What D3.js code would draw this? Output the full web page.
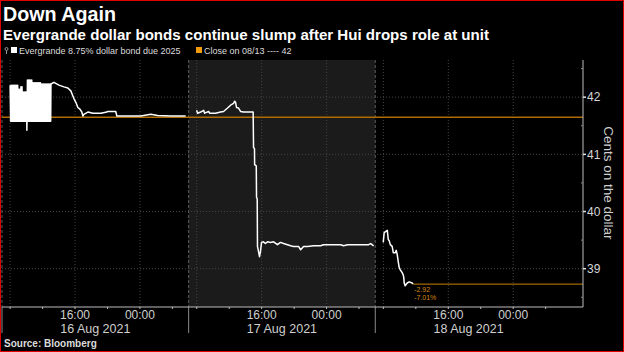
<!DOCTYPE html>
<html>
<head>
<meta charset="utf-8">
<script src="https://cdnjs.cloudflare.com/ajax/libs/d3/7.8.5/d3.min.js"></script>
<style>
body { margin: 0; background: #000; }
svg { display: block; }
</style>
</head>
<body>
<div id="chart"></div>
<script>
// Evergrande 8.75% 2025 dollar bond, intraday prices (cents on the dollar)
const aug16Prices = [
  ["08-16 08:00",42.21],["08-16 08:04",41.58],["08-16 08:08",42.21],["08-16 08:12",41.58],
  ["08-16 08:16",42.21],["08-16 08:20",41.58],["08-16 08:24",42.21],["08-16 08:28",41.58],
  ["08-16 08:32",42.21],["08-16 08:36",41.58],["08-16 08:40",42.21],["08-16 08:44",41.58],
  ["08-16 08:48",42.21],["08-16 08:52",41.58],["08-16 08:56",42.21],["08-16 09:00",41.58],
  ["08-16 09:04",42.14],["08-16 09:08",41.58],["08-16 09:12",42.14],["08-16 09:16",41.58],
  ["08-16 09:20",42.18],["08-16 09:24",41.58],["08-16 09:28",42.18],["08-16 09:32",41.58],
  ["08-16 09:36",42.09],["08-16 09:40",41.58],["08-16 09:44",42.09],["08-16 09:48",41.58],
  ["08-16 09:52",42.09],["08-16 09:56",41.58],["08-16 10:00",42.09],["08-16 10:04",41.42],
  ["08-16 10:08",42.30],["08-16 10:12",41.58],["08-16 10:16",42.30],["08-16 10:20",41.58],
  ["08-16 10:24",42.30],["08-16 10:28",41.58],["08-16 10:32",42.30],["08-16 10:36",41.58],
  ["08-16 10:40",42.30],["08-16 10:44",41.58],["08-16 10:48",42.25],["08-16 10:52",41.58],
  ["08-16 10:56",42.25],["08-16 11:00",41.58],["08-16 11:04",42.25],["08-16 11:08",41.58],
  ["08-16 11:12",42.25],["08-16 11:16",41.58],["08-16 11:20",42.25],["08-16 11:24",41.58],
  ["08-16 11:28",42.25],["08-16 11:32",41.58],["08-16 11:36",42.25],["08-16 11:40",41.58],
  ["08-16 11:44",42.25],["08-16 11:48",41.58],["08-16 11:52",42.23],["08-16 11:56",41.58],
  ["08-16 12:00",42.23],["08-16 12:04",41.58],["08-16 12:08",42.23],["08-16 12:12",41.58],
  ["08-16 12:16",42.23],["08-16 12:20",41.58],["08-16 12:24",42.23],["08-16 12:28",41.58],
  ["08-16 12:32",42.23],["08-16 12:36",41.58],["08-16 12:40",42.23],["08-16 12:44",41.58],
  ["08-16 12:48",42.23],["08-16 12:52",41.58],["08-16 12:56",42.23],["08-16 13:00",41.58],
  ["08-16 13:02",42.23],["08-16 13:24",42.26],["08-16 14:01",42.21],["08-16 14:38",42.18],
  ["08-16 15:07",42.16],["08-16 15:29",42.11],["08-16 15:44",42.02],["08-16 15:51",41.98],
  ["08-16 16:06",41.91],["08-16 16:21",41.82],["08-16 16:36",41.79],["08-16 16:50",41.74],
  ["08-16 16:58",41.67],["08-16 17:05",41.70],["08-16 17:35",41.74],["08-16 18:12",41.72],
  ["08-16 19:11",41.72],["08-16 19:55",41.74],["08-16 20:02",41.75],["08-16 21:01",41.75],
  ["08-16 21:09",41.67],["08-16 23:30",41.67],["08-17 00:06",41.67],["08-17 00:28",41.68],
  ["08-17 01:20",41.70],["08-17 02:11",41.68],["08-17 03:47",41.67],["08-17 05:38",41.67]
];
const aug17Prices = [
  ["08-17 07:59",41.77],["08-17 08:06",41.72],["08-17 08:29",41.74],["08-17 08:51",41.77],
  ["08-17 08:58",41.72],["08-17 09:28",41.75],["08-17 09:35",41.72],["08-17 10:19",41.72],
  ["08-17 10:56",41.74],["08-17 11:18",41.75],["08-17 11:48",41.81],["08-17 12:10",41.86],
  ["08-17 12:32",41.89],["08-17 12:40",41.93],["08-17 12:47",41.91],["08-17 12:54",41.82],
  ["08-17 13:09",41.81],["08-17 13:24",41.75],["08-17 13:46",41.74],["08-17 14:57",41.74],
  ["08-17 15:00",41.12],["08-17 15:07",41.10],["08-17 15:08",40.82],["08-17 15:20",40.80],
  ["08-17 15:22",40.25],["08-17 15:27",40.22],["08-17 15:29",39.39],["08-17 15:37",39.30],
  ["08-17 15:44",39.21],["08-17 15:51",39.30],["08-17 15:59",39.46],["08-17 16:13",39.47],
  ["08-17 16:28",39.44],["08-17 16:43",39.47],["08-17 17:06",39.46],["08-17 17:28",39.47],
  ["08-17 17:57",39.42],["08-17 18:19",39.46],["08-17 18:42",39.44],["08-17 19:34",39.40],
  ["08-17 19:56",39.39],["08-17 20:33",39.39],["08-17 20:48",39.33],["08-17 21:10",39.39],
  ["08-17 21:40",39.39],["08-17 22:24",39.40],["08-17 23:16",39.40],["08-17 23:38",39.42],
  ["08-18 00:30",39.42],["08-18 01:44",39.42],["08-18 02:06",39.40],["08-18 02:36",39.42],
  ["08-18 05:11",39.42],["08-18 05:26",39.44],["08-18 05:48",39.40]
];
const aug18Prices = [
  ["08-18 07:59",39.46],["08-18 08:06",39.63],["08-18 08:29",39.67],["08-18 08:36",39.51],
  ["08-18 08:43",39.49],["08-18 08:51",39.42],["08-18 09:05",39.39],["08-18 09:13",39.28],
  ["08-18 09:28",39.28],["08-18 09:35",39.32],["08-18 09:42",39.25],["08-18 09:50",39.12],
  ["08-18 09:57",39.02],["08-18 10:05",38.98],["08-18 10:19",38.93],["08-18 10:27",38.89],
  ["08-18 10:31",38.84],["08-18 10:34",38.75],["08-18 10:41",38.70],["08-18 10:56",38.75],
  ["08-18 11:11",38.77],["08-18 11:33",38.75],["08-18 11:40",38.73]
];
const prevClose = 41.65;
const dayLabels = ["16 Aug 2021", "17 Aug 2021", "18 Aug 2021"];
const yTicks = [39, 40, 41, 42];

const width = 624, height = 352;
const plot = {left: 2, right: 583, top: 60, bottom: 307};

// each trading day is shown from 07:00 to 06:00 next morning, gaps removed
const parseTime = d3.utcParse("%Y-%m-%d %H:%M");
const sessionOpen = Date.UTC(2021, 7, 16, 7);
const sessionLen = 23;
function sessionHours(t) {
    const h = (t - sessionOpen) / 36e5;
    const day = Math.floor(h / 24);
    return day * sessionLen + Math.min(h - day * 24, sessionLen);
}
const toDate = s => parseTime("2021-" + s);

const x = d3.scaleLinear()
    .domain([0, 3 * sessionLen + 2.6])
    .range([plot.left, plot.right]);
const y = d3.scaleLinear()
    .domain([38.33, 42.65])
    .range([plot.bottom, plot.top]);

const svg = d3.select("#chart")
    .append("svg")
    .attr("width", width)
    .attr("height", height);

svg.append("rect")
    .attr("width", width)
    .attr("height", height)
    .style("fill", "#000");

// shaded middle session
svg.append("rect")
    .attr("x", x(sessionLen))
    .attr("y", plot.top)
    .attr("width", x(2 * sessionLen) - x(sessionLen))
    .attr("height", plot.bottom - plot.top)
    .style("fill", "#1b1b1b");

// grid
svg.selectAll(".hgrid")
    .data(yTicks)
    .enter().append("line")
    .attr("x1", plot.left)
    .attr("x2", plot.right)
    .attr("y1", d => y(d))
    .attr("y2", d => y(d))
    .style("stroke", "#444")
    .style("stroke-dasharray", "1,2");

const hourTicks = d3.utcHour.every(4).range(new Date(sessionOpen), new Date(Date.UTC(2021, 7, 19, 6)));
svg.selectAll(".vgrid")
    .data(hourTicks.filter(d => d.getUTCHours() % 8 === 0))
    .enter().append("line")
    .attr("x1", d => x(sessionHours(d)))
    .attr("x2", d => x(sessionHours(d)))
    .attr("y1", plot.top)
    .attr("y2", plot.bottom)
    .style("stroke", "#444")
    .style("stroke-dasharray", "1,2");

// session separators
const boundaries = [0, sessionLen, 2 * sessionLen];
svg.selectAll(".sep")
    .data(boundaries)
    .enter().append("line")
    .attr("x1", d => x(d))
    .attr("x2", d => x(d))
    .attr("y1", plot.top)
    .attr("y2", plot.bottom)
    .style("stroke", "#5c5c5c")
    .style("stroke-dasharray", "3,2");
svg.selectAll(".sepLow")
    .data(boundaries)
    .enter().append("line")
    .attr("x1", d => x(d))
    .attr("x2", d => x(d))
    .attr("y1", plot.bottom)
    .attr("y2", 333)
    .style("stroke", "#8a8a8a");

// previous close line
svg.append("line")
    .attr("x1", plot.left)
    .attr("x2", plot.right)
    .attr("y1", y(prevClose))
    .attr("y2", y(prevClose))
    .style("stroke", "#b06c00")
    .style("stroke-width", 1.5);

const line = d3.line()
    .x(d => x(sessionHours(toDate(d[0]))))
    .y(d => y(d[1]));

[aug16Prices, aug17Prices, aug18Prices].forEach(function(day){
    svg.append("path")
        .datum(day)
        .attr("d", line)
        .style("fill", "none")
        .style("stroke", "#fff")
        .style("stroke-width", 1.5)
        .style("stroke-linejoin", "round");
});

// last price marker
const last = aug18Prices[aug18Prices.length - 1];
const lastX = x(sessionHours(toDate(last[0])));
svg.append("line")
    .attr("x1", lastX)
    .attr("x2", plot.right)
    .attr("y1", y(last[1]))
    .attr("y2", y(last[1]))
    .style("stroke", "#c98100")
    .style("stroke-width", 1);
const chg = last[1] - prevClose;
svg.append("text")
    .attr("x", lastX + 1)
    .attr("y", y(last[1]) + 8)
    .attr("font-family", "Liberation Sans, Arial, sans-serif")
    .attr("font-size", "7px")
    .style("fill", "#d58b12")
    .text(chg.toFixed(2));
svg.append("text")
    .attr("x", lastX + 1)
    .attr("y", y(last[1]) + 16)
    .attr("font-family", "Liberation Sans, Arial, sans-serif")
    .attr("font-size", "7px")
    .style("fill", "#d58b12")
    .text((chg / prevClose * 100).toFixed(2) + "%");

// x axis
svg.append("line")
    .attr("x1", plot.left)
    .attr("x2", plot.right)
    .attr("y1", plot.bottom)
    .attr("y2", plot.bottom)
    .style("stroke", "#bdbdbd");
svg.selectAll(".xtick")
    .data(hourTicks)
    .enter().append("line")
    .attr("x1", d => x(sessionHours(d)))
    .attr("x2", d => x(sessionHours(d)))
    .attr("y1", plot.bottom)
    .attr("y2", plot.bottom + 2)
    .style("stroke", "#bdbdbd");
const fmtHour = d3.utcFormat("%H:%M");
svg.selectAll(".xlabel")
    .data(hourTicks.filter(d => d.getUTCHours() === 16 || d.getUTCHours() === 0))
    .enter().append("text")
    .attr("x", d => x(sessionHours(d)))
    .attr("y", 319)
    .attr("text-anchor", "middle")
    .attr("font-family", "Liberation Sans, Arial, sans-serif")
    .attr("font-size", "12px")
    .style("fill", "#cfcfcf")
    .text(d => fmtHour(d));
svg.selectAll(".daylabel")
    .data(dayLabels)
    .enter().append("text")
    .attr("x", (d, i) => x(i * sessionLen + sessionLen / 2))
    .attr("y", 333)
    .attr("text-anchor", "middle")
    .attr("font-family", "Liberation Sans, Arial, sans-serif")
    .attr("font-size", "12.5px")
    .style("fill", "#cfcfcf")
    .text(d => d);

// y axis
svg.append("line")
    .attr("x1", plot.right)
    .attr("x2", plot.right)
    .attr("y1", plot.top)
    .attr("y2", plot.bottom)
    .style("stroke", "#bdbdbd");
svg.selectAll(".ytick")
    .data(yTicks)
    .enter().append("line")
    .attr("x1", plot.right)
    .attr("x2", plot.right + 3)
    .attr("y1", d => y(d))
    .attr("y2", d => y(d))
    .style("stroke", "#e0e0e0")
    .style("stroke-width", 1.5);
svg.selectAll(".yminor")
    .data(yTicks.map(d => d + 0.5).concat([38.5]))
    .enter().append("line")
    .attr("x1", plot.right - 2)
    .attr("x2", plot.right)
    .attr("y1", d => y(d))
    .attr("y2", d => y(d))
    .style("stroke", "#888");
svg.selectAll(".ylabel")
    .data(yTicks)
    .enter().append("text")
    .attr("x", plot.right + 4)
    .attr("y", d => y(d))
    .attr("dy", "0.36em")
    .attr("font-family", "Liberation Sans, Arial, sans-serif")
    .attr("font-size", "12px")
    .style("fill", "#d6d6d6")
    .text(d => d);
svg.append("text")
    .attr("transform", "translate(604," + y(40.5) + ") rotate(90)")
    .attr("text-anchor", "middle")
    .attr("font-family", "Liberation Sans, Arial, sans-serif")
    .attr("font-size", "13.5px")
    .style("fill", "#cfcfcf")
    .text("Cents on the dollar");

// titles
svg.append("text")
    .attr("x", 3)
    .attr("y", 21)
    .attr("font-family", "Liberation Sans, Arial, sans-serif")
    .attr("font-size", "20px")
    .attr("font-weight", "bold")
    .attr("textLength", 113)
    .attr("lengthAdjust", "spacingAndGlyphs")
    .style("fill", "#fff")
    .text("Down Again");
svg.append("text")
    .attr("x", 3)
    .attr("y", 40)
    .attr("font-family", "Liberation Sans, Arial, sans-serif")
    .attr("font-size", "15.5px")
    .attr("font-weight", "bold")
    .attr("textLength", 486)
    .attr("lengthAdjust", "spacingAndGlyphs")
    .style("fill", "#fff")
    .text("Evergrande dollar bonds continue slump after Hui drops role at unit");

// legend
svg.append("circle")
    .attr("cx", 6.5)
    .attr("cy", 49)
    .attr("r", 1.5)
    .style("fill", "none")
    .style("stroke", "#999");
svg.append("line")
    .attr("x1", 6.5).attr("x2", 6.5)
    .attr("y1", 50.5).attr("y2", 54)
    .style("stroke", "#999");
svg.append("rect")
    .attr("x", 11).attr("y", 47)
    .attr("width", 6).attr("height", 6)
    .style("fill", "#fff");
svg.append("text")
    .attr("x", 19)
    .attr("y", 54)
    .attr("font-family", "Liberation Sans, Arial, sans-serif")
    .attr("font-size", "9px")
    .style("fill", "#dcdcdc")
    .text("Evergrande 8.75% dollar bond due 2025");
svg.append("rect")
    .attr("x", 196).attr("y", 47)
    .attr("width", 6).attr("height", 6)
    .style("fill", "#f39a0e");
svg.append("text")
    .attr("x", 204)
    .attr("y", 54)
    .attr("font-family", "Liberation Sans, Arial, sans-serif")
    .attr("font-size", "9px")
    .style("fill", "#dcdcdc")
    .text("Close on 08/13 ---- 42");

svg.append("text")
    .attr("x", 4)
    .attr("y", 347)
    .attr("font-family", "Liberation Sans, Arial, sans-serif")
    .attr("font-size", "10px")
    .attr("font-weight", "bold")
    .style("fill", "#dcdcdc")
    .text("Source: Bloomberg");

// frame
svg.append("rect")
    .attr("x", 0.5).attr("y", 0.5)
    .attr("width", width - 1).attr("height", height - 1)
    .style("fill", "none")
    .style("stroke", "#e00000");
</script>
</body>
</html>
